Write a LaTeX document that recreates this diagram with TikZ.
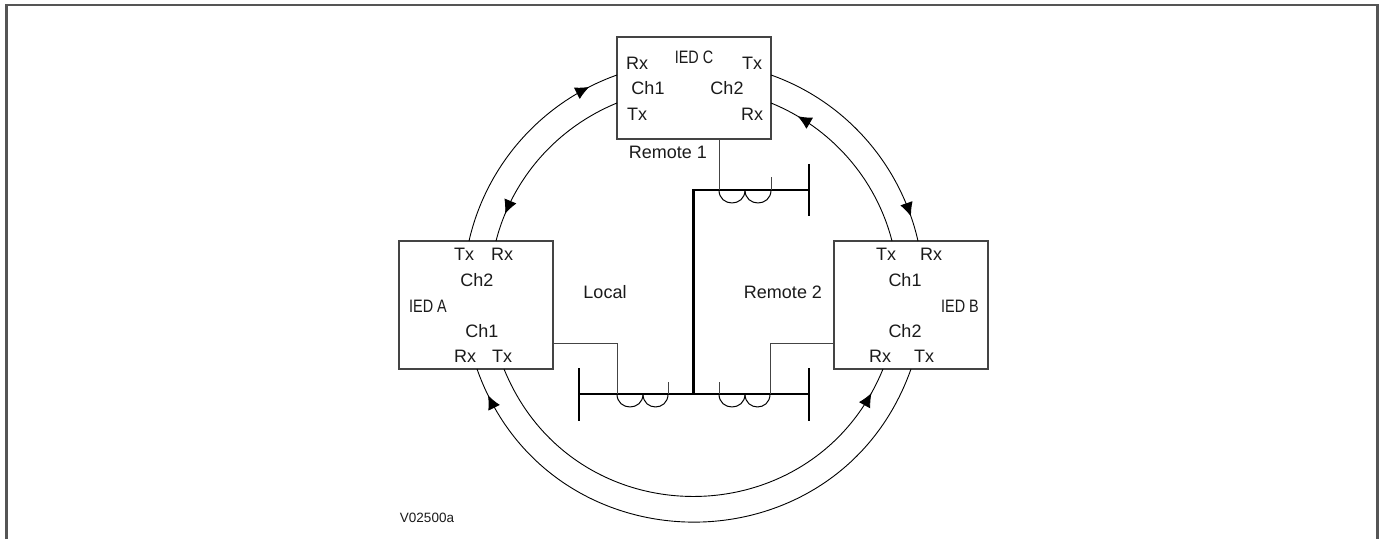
\documentclass[tikz,border=0pt]{standalone}
\usepackage{fontspec}
\setmainfont{Liberation Sans}
\newfontfamily\iedfont[FakeStretch=0.8]{Liberation Sans}
\usepackage{xcolor}
\definecolor{framegray}{HTML}{555555}
\definecolor{boxgray}{HTML}{444444}
\definecolor{textgray}{HTML}{1A1A1A}
\usetikzlibrary{arrows.meta}
\usetikzlibrary{decorations.markings}

\begin{document}
\begin{tikzpicture}[x=1pt, y=1pt,
			every node/.style={inner sep=0pt, text=textgray, font=\fontsize{18}{20}\selectfont},
			iedbox/.style={draw=boxgray, line width=1.1pt, minimum width=154pt},
			iedname/.style={font=\fontsize{18}{20}\iedfont},
			ringline/.style={draw, line width=0.9pt, postaction={decorate},
				decoration={markings, mark=at position #1 with {\arrow{Latex[length=14pt,width=13pt]}}}},
			bus/.style={line width=2.4pt},
			wire/.style={draw=boxgray, line width=1pt},
			coil/.style={line width=1pt, out=-90, in=-90, out distance=17.3pt, in distance=17.3pt},
			]
			\useasboundingbox (0,0) rectangle (1384,539);
			\coordinate (frameA) at (6.5,0);
			\coordinate (frameB) at (6.5,534);
			\coordinate (frameC) at (1377.5,534);
			\coordinate (frameD) at (1377.5,0);
			\draw[draw=framegray, line width=2.4pt] (frameA) -- (frameB) -- (frameC) -- (frameD);

			\node[iedbox, minimum height=128pt] (iedA) at (476,234) {};
			\node[iedbox, minimum height=128pt] (iedB) at (911,234) {};
			\node[iedbox, minimum height=102pt] (iedC) at (694,451) {};

			\node (aTxTop) at (464,285) {Tx};
			\node (aRxTop) at (502,285) {Rx};
			\node (aChTwo) at (477,259) {Ch2};
			\node[iedname] (aName) at (428,233) {IED A};
			\node (aChOne) at (482,208) {Ch1};
			\node (aRxLow) at (465,183) {Rx};
			\node (aTxLow) at (502,183) {Tx};
			\node (localName) at (605,247) {Local};

			\node (bTxTop) at (886,285) {Tx};
			\node (bRxTop) at (931,285) {Rx};
			\node (bChOne) at (905,259) {Ch1};
			\node[iedname] (bName) at (960,233) {IED B};
			\node (bChTwo) at (905,208) {Ch2};
			\node (bRxLow) at (880,183) {Rx};
			\node (bTxLow) at (924,183) {Tx};
			\node (remoteTwo) at (783,247) {Remote 2};

			\node (cRxTop) at (637,476) {Rx};
			\node[iedname] (cName) at (694,482) {IED C};
			\node (cTxTop) at (752,476) {Tx};
			\node (cChOne) at (648,451) {Ch1};
			\node (cChTwo) at (727,451) {Ch2};
			\node (cTxLow) at (637,425) {Tx};
			\node (cRxLow) at (752,425) {Rx};
			\node (remoteOne) at (668,387) {Remote 1};

			\node[font=\fontsize{13.5}{16}\selectfont] (figRef) at (427,21) {V02500a};

			\coordinate (aRingTx) at (469,298);
			\coordinate (aRingRx) at (496,298);
			\coordinate (aLowRx) at (477,170);
			\coordinate (aLowTx) at (504,170);
			\coordinate (bRingTx) at (892,298);
			\coordinate (bRingRx) at (918,298);
			\coordinate (bLowRx) at (883,170);
			\coordinate (bLowTx) at (911,170);
			\coordinate (cRingRx) at (617,464);
			\coordinate (cRingTx) at (617,436);
			\coordinate (cRingOut) at (771,464);
			\coordinate (cRingIn) at (771,436);

			\path[ringline=0.87] (aRingTx) to[out=77.2, in=199.5, out distance=78.9pt, in distance=78.9pt] (cRingRx);
			\path[ringline=0.85] (cRingTx) to[out=202.2, in=75.6, out distance=64.7pt, in distance=64.7pt] (aRingRx);
			\path[ringline=0.89] (cRingOut) to[out=-19.5, in=102.8, out distance=78.8pt, in distance=78.8pt] (bRingRx);
			\path[ringline=0.844] (bRingTx) to[out=104.4, in=-22.2, out distance=64.7pt, in distance=64.7pt] (cRingIn);
			\path[ringline=0.95] (bLowTx) to[out=-109.5, in=-70.5, out distance=216.6pt, in distance=216.6pt] (aLowRx);
			\path[ringline=0.945] (aLowTx) to[out=-67.9, in=-112.2, out distance=183.5pt, in distance=183.5pt] (bLowRx);

			\coordinate (busLeft) at (579,145);
			\coordinate (busRight) at (809,145);
			\coordinate (busJoin) at (693.5,145);
			\coordinate (busTopJoin) at (693.5,349);
			\coordinate (busTopEnd) at (809,349);
			\draw[bus] (busLeft) -- (busRight);
			\draw[bus] (busJoin) -- (busTopJoin) -- (busTopEnd);
			\draw[bus] (579,171) -- (579,118);
			\draw[bus] (809,171) -- (809,118);
			\draw[bus] (809,375) -- (809,323);

			\coordinate (lCoilA) at (617,145);
			\coordinate (lCoilB) at (643,145);
			\coordinate (lCoilC) at (668,145);
			\coordinate (lStub) at (668,157);
			\coordinate (rCoilA) at (719,145);
			\coordinate (rCoilB) at (745,145);
			\coordinate (rCoilC) at (770,145);
			\coordinate (rStub) at (719,157);
			\coordinate (tCoilA) at (719,349);
			\coordinate (tCoilB) at (745,349);
			\coordinate (tCoilC) at (771,349);
			\coordinate (tStub) at (771,362);
			\coordinate (aBus) at (553,196);
			\coordinate (bBus) at (834,196);
			\coordinate (cBus) at (719,400);

			\draw[coil] (lCoilA) to (lCoilB);
			\draw[coil] (lCoilB) to (lCoilC);
			\draw[coil] (rCoilA) to (rCoilB);
			\draw[coil] (rCoilB) to (rCoilC);
			\draw[coil] (tCoilA) to (tCoilB);
			\draw[coil] (tCoilB) to (tCoilC);
			\draw[wire] (lCoilC) -- (lStub);
			\draw[wire] (rCoilA) -- (rStub);
			\draw[wire] (tCoilC) -- (tStub);
			\draw[wire] (aBus) -- (lCoilA |- aBus) -- (lCoilA);
			\draw[wire] (bBus) -- (rCoilC |- bBus) -- (rCoilC);
			\draw[wire] (cBus) -- (tCoilA);
		\end{tikzpicture}
\end{document}
